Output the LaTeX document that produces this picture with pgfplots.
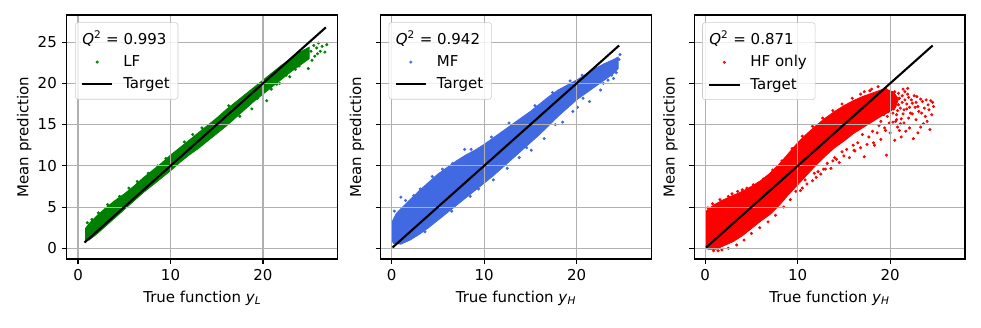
\documentclass[border=0pt]{standalone}
\usepackage{fontspec}
\setmainfont{DejaVu Sans}
\usepackage{pgfplots}
\pgfplotsset{compat=1.18}
\usepgfplotslibrary{groupplots}

\definecolor{mplgreen}{RGB}{0,128,0}
\definecolor{royalblue}{RGB}{65,105,225}
\definecolor{mplred}{RGB}{255,0,0}
\definecolor{gridgray}{HTML}{B0B0B0}
\definecolor{leggray}{HTML}{CCCCCC}

\pgfplotsset{
  panel/.style={
    width=195.1pt, height=175.7pt, scale only axis,
    xmin=-1.2, xmax=28.1, ymin=-1.3, ymax=28.3,
    xtick={0,10,20}, ytick={0,5,10,15,20,25},
    xtick pos=left, ytick pos=left,
    tick align=outside, major tick length=3.5pt,
    tick style={black, line width=0.8pt},
    axis line style={line width=0.8pt},
    grid=major, grid style={gridgray, line width=0.8pt},
    set layers=axis on top, axis on top,
    /pgf/number format/assume math mode=true,
    ylabel={Mean prediction},
    ylabel shift=-3pt,
    legend cell align=left,
    legend style={at={(0.03,0.97)}, anchor=north west, draw=leggray,
      rounded corners=2pt, fill=white, fill opacity=0.8, text opacity=1,
      inner xsep=4pt, inner ysep=4pt, row sep=2.5pt, column sep=5pt},
    legend image code/.code={\draw[mark repeat=2,mark phase=2,##1]
      plot coordinates {(0pt,0pt) (11pt,0pt) (22pt,0pt)};},
  },
  cloud/.style={only marks, mark=*, mark size=0.9pt},
}

\begin{document}
\fontsize{10.8}{13}\selectfont
\begin{tikzpicture}
\begin{groupplot}[group style={group size=3 by 1, horizontal sep=30.7pt}, panel]

% ---- LF ----
\nextgroupplot[xlabel={True function \textit{y}\textsubscript{\textit{L}}}]
\coordinate (bl) at (rel axis cs:0,0);
\addlegendimage{empty legend}
\addlegendentry{\hspace*{-29.5pt}\textit{Q}\textsuperscript{2} = 0.993}
\addplot[forget plot, fill=mplgreen, draw=mplgreen, line width=0.6pt] coordinates {
(0.8,1.0) (0.8,2.4) (1.2,3.0) (2,3.9) (3,4.9) (4,5.8) (5,6.6) (6,7.5) (7,8.5)
(8,9.4) (9,10.3) (10,11.3) (11,12.2) (12,13.1) (13,14.0) (14,14.9) (15,15.8)
(16,16.8) (17,17.7) (18,18.6) (19,19.5) (20,20.4) (21,21.3) (22,22.2) (23,23.0)
(24,23.8) (25,24.4)
(25,23.0) (24,22.2) (23,21.4) (22,20.5) (21,19.6) (20,18.7) (19,17.8) (18,16.8)
(17,15.8) (16,14.8) (15,13.9) (14,13.0) (13,12.1) (12,11.3) (11,10.4) (10,9.4)
(9,8.5) (8,7.6) (7,6.7) (6,5.7) (5,4.7) (4,3.7) (3,2.7) (2,1.7) (1.2,1.0)
} -- cycle;
\addplot[cloud, mplgreen] coordinates {
(26.4,24.5) (26.7,23.8) (25.8,24.3) (25.6,23.3) (24.9,21.8) (22.9,20.8)
(20.4,17.9) (26.0,24.9) (25.2,23.9) (24.3,22.6) (23.5,21.7) (18.8,16.9)
(17.5,16.0) (21.8,20.0) (24.6,24.0) (25.5,24.6) (26.9,24.7) (25.9,23.6)
(5.5,7.3) (7.6,9.1) (8.6,10.0) (3.2,5.3) (2.2,4.3) (1.0,3.1) (6.4,8.1)
(11.5,12.9) (13.4,14.6) (16.3,17.3) (19.4,18.2) (21.5,19.9) (23.9,22.1)
(25.3,22.8) (26.2,23.9) (24.4,23.5) (22.5,21.0) (20.9,19.3) (15.6,14.7)
(14.3,13.5) (9.5,10.9) (4.5,6.3) (1.5,3.5) (12.4,13.8) (17.1,16.2)
};
\addlegendentry{LF}
\addplot[black, line width=1.5pt, on layer=axis foreground] coordinates {(0.7,0.7) (26.8,26.8)};
\addlegendentry{Target}

% ---- MF ----
\nextgroupplot[xlabel={True function \textit{y}\textsubscript{\textit{H}}}, yticklabels={}]
\addlegendimage{empty legend}
\addlegendentry{\hspace*{-29.5pt}\textit{Q}\textsuperscript{2} = 0.942}
\addplot[forget plot, fill=royalblue, draw=royalblue, line width=0.6pt] coordinates {
(0.1,0.8) (0.1,3.3) (0.5,4.2) (1,4.8) (2,5.9) (3,7.0) (4,8.0) (5,9.0) (6,9.8)
(7,10.6) (8,11.3) (9,11.9) (10,12.6) (11,13.4) (12,14.2) (13,15.0) (14,15.8)
(15,16.6) (16,17.5) (17,18.4) (18,19.2) (19,19.8) (20,20.4) (21,21.1) (22,21.8)
(23,22.4) (24,22.9) (24.5,23.2)
(24.5,21.8) (24,21.2) (23,20.4) (22,19.6) (21,18.8) (20,18.0) (19,17.0) (18,16.0)
(17,14.9) (16,13.8) (15,12.8) (14,11.8) (13,10.8) (12,9.8) (11,8.8) (10,7.9)
(9,7.0) (8,6.1) (7,5.2) (6,4.3) (5,3.4) (4,2.5) (3,1.7) (2,1.0) (1,0.5) (0.2,0.6)
} -- cycle;
\addplot[cloud, royalblue] coordinates {
(19.6,16.6) (16.5,13.3) (15.1,11.9) (12.5,9.7) (22.6,19.2) (24.3,21.3)
(23.4,20.4) (24.7,23.5) (24.3,22.5) (23.7,21.8) (21.0,19.5) (20.1,17.1)
(17.7,15.0) (13.8,11.0) (11.0,8.3) (1.0,6.2) (2.4,6.4) (3.1,7.2) (5.5,9.6)
(7.9,12.0) (1.5,5.8) (22.3,20.2) (24.0,20.6) (21.4,17.8) (18.5,15.3)
(24.6,22.9) (23.0,21.5) (14.6,12.2) (9.4,7.2) (6.6,10.3) (0.3,4.5)
(4.4,8.7) (8.6,12.0) (10.8,13.5) (12.7,15.2) (15.5,17.3) (17.4,18.9)
(19.3,20.3) (20.6,21.0) (3.6,2.0) (6.5,4.5) (8.5,6.3) (17.3,15.4)
(20.7,18.2) (22.9,20.0) (23.8,21.0) (24.1,22.0)
};
\addlegendentry{MF}
\addplot[black, line width=1.5pt, on layer=axis foreground] coordinates {(0.1,0.1) (24.6,24.6)};
\addlegendentry{Target}

% ---- HF only ----
\nextgroupplot[xlabel={True function \textit{y}\textsubscript{\textit{H}}}, yticklabels={}]
\coordinate (tr) at (rel axis cs:1,1);
\addlegendimage{empty legend}
\addlegendentry{\hspace*{-29.5pt}\textit{Q}\textsuperscript{2} = 0.871}
\addplot[forget plot, fill=mplred, draw=mplred, line width=0.6pt] coordinates {
(0.1,0) (0.1,4.5) (0.5,4.9) (1,5.3) (2,5.9) (3,6.4) (4,6.9) (5,7.5) (6,8.2)
(7,9.1) (8,10.2) (9,11.5) (10,12.8) (11,13.9) (12,14.9) (13,15.8) (14,16.6)
(15,17.3) (16,17.9) (17,18.4) (18,18.8) (19,19.2) (19.6,19.3) (20.4,18.9)
(20.9,18.1) (20.6,17.1) (20.0,16.6)
(19,16.0) (18,15.3) (17,14.6) (16,13.9) (15,13.0) (14,12.2)
(13,11.2) (12,10.1) (11,8.9) (10,7.7) (9,6.5) (8,5.2) (7,4.1) (6,3.3) (5,2.4)
(4,1.5) (3,0.8) (2,0.3) (1.2,-0.1) (0.3,-0.1)
} -- cycle;
\addplot[cloud, mplred] coordinates {
(19.5,19.4) (20.0,18.5) (20.5,19.0) (21.0,18.2) (21.4,19.3) (21.8,17.5)
(22.3,18.0) (22.7,17.1) (23.1,16.6) (23.5,17.8) (24.1,17.4) (24.5,16.2)
(24.3,14.4) (23.6,15.1) (22.5,13.3) (22.0,15.8) (21.2,13.5) (20.8,14.7)
(20.5,13.1) (20.3,16.4) (19.6,11.3) (21.5,16.8) (22.9,18.4) (20.9,17.4)
(19.9,15.2) (21.7,14.2) (23.0,14.0) (24.6,17.7) (22.4,16.3) (20.2,17.8)
(19.4,14.6) (19.0,13.2) (18.6,14.0) (18.2,12.8) (17.7,13.5) (17.2,11.1)
(16.8,12.2) (16.2,11.8) (15.6,11.0) (15.0,11.2) (14.5,10.4) (14.0,11.0)
(13.6,9.7) (13.0,9.6) (12.5,9.0) (12.0,8.6) (11.6,8.2) (11.0,7.8) (10.5,7.3)
(10.3,7.0) (9.8,6.9) (9.2,5.9) (8.5,5.0) (7.6,4.0) (6.8,3.2) (5.9,2.5)
(5.0,1.8) (4.2,1.0) (3.4,0.4) (2.5,0.0) (1.8,-0.2) (1.4,-0.3) (0.9,-0.3)
(0.2,1.0) (0.2,2.6) (0.4,3.8) (0.3,4.9) (0.8,5.4) (1.6,5.9) (2.5,6.3)
(2.9,6.6) (3.5,6.9) (4.0,7.1) (4.5,7.3) (5.2,7.7) (6.3,8.4) (7.3,9.5)
(8.3,10.6) (9.4,12.1) (10.5,13.6) (11.6,14.8) (12.7,15.8) (13.8,16.7)
(14.8,17.5) (15.9,18.2) (16.8,18.7) (17.8,19.1)
(18.7,19.6) (18.0,19.3) (17.2,19.0) (18.3,12.5) (16.1,11.9)
(21.9,19.4) (23.8,16.0) (20.7,15.6)
(19.2,18.6) (19.4,17.9) (19.6,17.2) (19.8,16.6) (19.3,16.2) (19.9,18.2)
(20.1,17.6) (20.3,18.9) (20.4,16.9) (20.6,18.3) (20.7,16.2) (20.9,18.8)
(21.1,17.0) (21.3,18.5) (21.2,15.7) (21.6,18.0) (21.9,18.7) (22.1,17.1)
(22.2,16.4) (22.6,18.5) (22.8,17.7) (23.0,17.2) (23.3,18.1) (23.4,16.4)
(23.7,17.0) (23.9,18.0) (24.2,16.8) (24.4,17.9) (24.7,17.2) (19.0,15.4)
(19.5,14.3) (20.0,14.0) (20.6,15.4) (21.0,14.3) (21.5,15.2) (22.1,14.6)
(22.8,15.6) (23.3,14.7) (24.0,15.4) (18.8,14.9) (18.1,14.2) (17.5,12.6)
(17.0,13.8) (16.5,12.8) (16.0,12.5) (15.3,12.0) (14.8,11.7) (14.2,10.8)
(13.8,10.6) (13.2,10.3) (12.8,9.6) (12.2,9.3) (11.8,9.1) (10.8,8.3)
(21.4,16.3) (21.8,16.9) (22.0,18.3) (21.1,15.1) (20.3,15.3) (21.6,19.0)
(22.4,17.6) (19.7,16.0) (21.3,17.7) (20.8,16.7)
};
\addlegendentry{HF only}
\addplot[black, line width=1.5pt, on layer=axis foreground] coordinates {(0.1,0.1) (24.6,24.6)};
\addlegendentry{Target}
\end{groupplot}
\path ([xshift=-48.2pt,yshift=-49pt]bl) rectangle ([xshift=11.5pt,yshift=10.8pt]tr);
\end{tikzpicture}
\end{document}
